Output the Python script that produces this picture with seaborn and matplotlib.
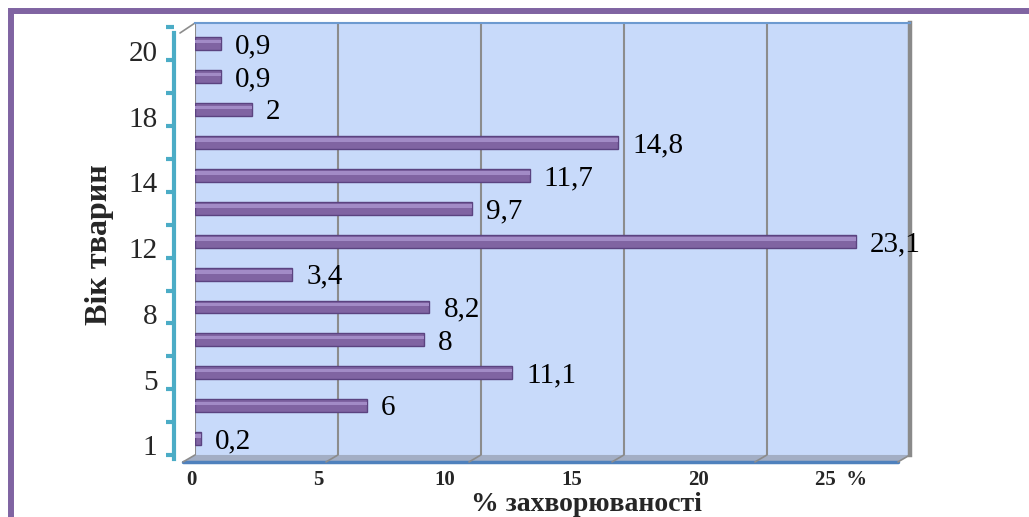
import numpy as np
import pandas as pd
import matplotlib
matplotlib.use("Agg")
import matplotlib.pyplot as plt
import matplotlib.transforms as mtransforms
from matplotlib.patches import Rectangle, Polygon
import seaborn as sns

# Incidence (%) by animal age, listed from the youngest row (bottom) upwards;
# only every other row carries an age label.
age_labels = ["1", "", "5", "", "8", "", "12", "", "14", "", "18", "", "20"]
incidence = [0.2, 6, 11.1, 8, 8.2, 3.4, 23.1, 9.7, 11.7, 14.8, 2, 0.9, 0.9]
x_ticks = [0, 5, 10, 15, 20, 25]
x_tick_labels = ["0", "5", "10", "15", "20", "25  %"]
x_title = "% захворюваності"
y_title = "Вік тварин"

BAR = "#8064A2"
BAR_EDGE = "#5B4380"
BAR_HI = "#A28BC6"
WALL = "#C8DAFA"
TEAL = "#4BACC6"
GRID = "#8C8C8C"


def fmt(v):
    return f"{v:g}".replace(".", ",")


def front(v):
    """Value scale on the front edge of the floor (perspective shift)."""
    return -0.126 + 0.8874 * v


df = pd.DataFrame({"row": range(len(incidence)), "value": incidence})
order = list(range(len(incidence)))[::-1]   # oldest row on top

sns.set_theme(style="white")
plt.rcParams["font.family"] = ["Liberation Serif", "DejaVu Serif"]

fig = plt.figure(figsize=(10.29, 5.17), dpi=100)
ax = fig.add_axes([0.1895, 0.12, 0.6948, 0.8355])
ax.set_facecolor(WALL)

# side wall sits in front of the back wall
ax.spines["left"].set_position(("outward", 15))
ax.spines["left"].set_color(TEAL)
ax.spines["left"].set_linewidth(3)
ax.spines["right"].set_color("#8A8A8A")
ax.spines["right"].set_linewidth(3.2)
ax.spines["top"].set_color("#6D9AD0")
ax.spines["top"].set_linewidth(1.5)
ax.spines["bottom"].set_visible(False)

sns.barplot(data=df, x="value", y="row", order=order, orient="h",
            color=BAR, saturation=1, width=0.39, edgecolor=BAR_EDGE,
            linewidth=1.0, ax=ax, zorder=3)

# glossy stripe along each tube
for p in list(ax.patches):
    x0, y0, w, h = p.get_x(), p.get_y(), p.get_width(), p.get_height()
    ax.add_patch(Rectangle((x0, y0 + h * 0.18), w, h * 0.28, color=BAR_HI,
                           lw=0, zorder=4))

labels = ax.bar_label(ax.containers[0],
                      labels=[fmt(v) for v in incidence[::-1]],
                      padding=10, fontsize=21, color="black", zorder=5)
for t in labels:
    t.xyann = (t.xyann[0], t.xyann[1] - 2)

ax.set_xlim(0, 25)
ax.set_ylim(12.42, -0.635)
ax.set_xlabel("")
ax.set_ylabel("")
ax.spines["left"].set_bounds(-0.33, 12.63)

# back-wall grid
ax.set_xticks(x_ticks)
ax.xaxis.grid(True, color=GRID, lw=1.5, zorder=1)
ax.tick_params(axis="x", labelbottom=False, length=0)

# value labels along the front edge of the floor
blend = mtransforms.blended_transform_factory(ax.transData, ax.transAxes)
for i, (t, lab) in enumerate(zip(x_ticks, x_tick_labels)):
    last = i == len(x_ticks) - 1
    ax.annotate(lab, xy=(front(t), 0), xycoords=blend,
                xytext=(-8 if last else 0, -11), textcoords="offset points",
                ha="left" if last else "center", va="top", fontsize=15,
                fontweight="bold", annotation_clip=False)

# category ticks on the side wall
ax.set_yticks(range(len(order)))
ax.set_yticklabels(age_labels[::-1])
ax.set_yticks(np.arange(-0.5, len(order), 1), minor=True)
ax.tick_params(axis="y", which="major", length=0, pad=12, labelsize=21)
ax.tick_params(axis="y", which="minor", left=True, length=6, width=3,
               color=TEAL, direction="out")
shift = mtransforms.ScaledTranslation(0, -5 / 72, fig.dpi_scale_trans)
for lbl in ax.get_yticklabels():
    lbl.set_transform(lbl.get_transform() + shift)

# top-left corner edge
ax.plot([-15 / 715, 0], [1 - 10 / 432, 1], transform=ax.transAxes,
        color=GRID, lw=1.2, clip_on=False)

# floor
dx, dy = -12 / 715, -7 / 432
ax.add_patch(Polygon([(0, 0), (1, 0), (1 + dx, dy), (dx, dy)],
                     closed=True, transform=ax.transAxes, clip_on=False,
                     fc="#A3AEC4", ec="none", zorder=2))
ax.plot([dx, 1 + dx], [dy, dy], transform=ax.transAxes, color="#4F81BD",
        lw=2.5, clip_on=False, zorder=2)
for t in x_ticks:
    ax.plot([t, t - 12 / 28.6], [0, dy], transform=blend, color=GRID,
            lw=1.2, clip_on=False, zorder=2)

fig.text(0.570, 0.024, x_title, ha="center", va="center", fontsize=20,
         fontweight="bold")
fig.text(0.097, 0.526, y_title, ha="center", va="center", rotation=90,
         fontsize=23, fontweight="bold")

# outer frame
fig.add_artist(Rectangle((10.5 / 1029, -0.2), 1.5, 1.2 - 10.5 / 517,
                         transform=fig.transFigure, fill=False,
                         ec="#8064A2", lw=4.3))

fig.savefig("out.png", dpi=100)
